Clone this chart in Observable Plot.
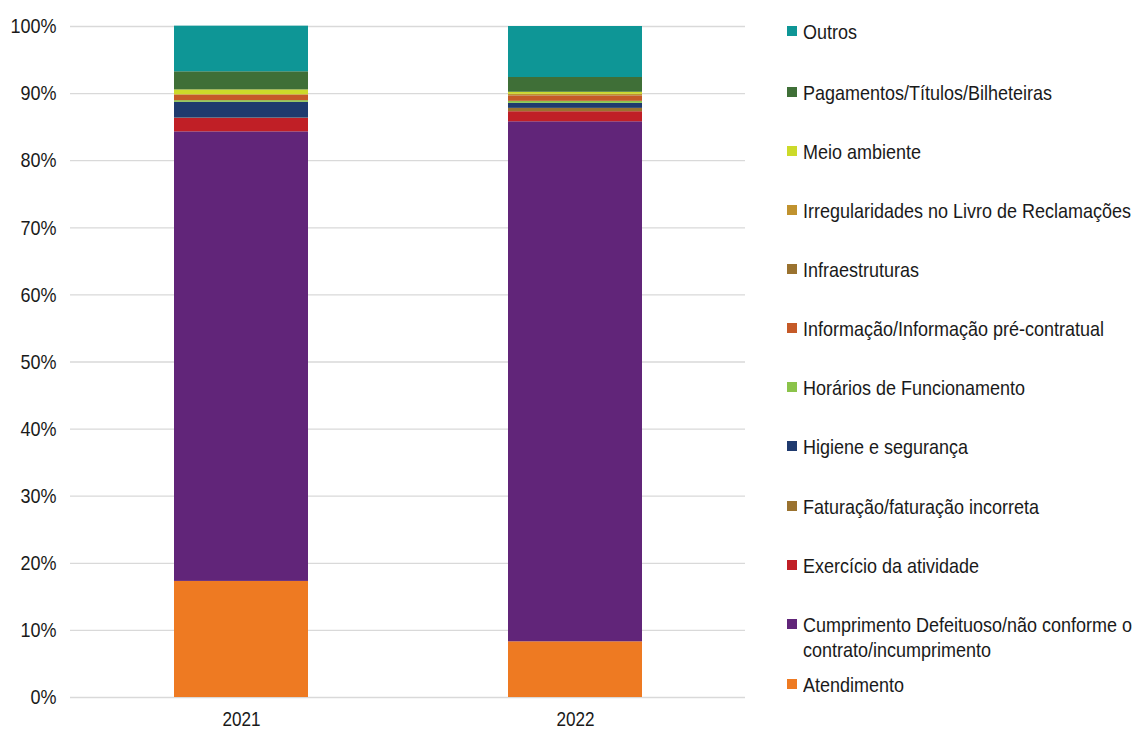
<!DOCTYPE html>
<html>
<head>
<meta charset="utf-8">
<script src="https://cdn.jsdelivr.net/npm/d3@7"></script>
<script src="https://cdn.jsdelivr.net/npm/@observablehq/plot@0.6"></script>
<style>
  body { margin: 0; background: #fff; }
  #wrap { position: relative; width: 1134px; height: 733px; font-family: "Liberation Sans", Arial, sans-serif; overflow: hidden; }
  #chart { position: absolute; left: 0; top: 0; }
  .leg { position: absolute; left: 787px; font-size: 21px; color: #1a1a1a; line-height: 25px; }
  .leg .sw { position: absolute; left: 0; top: 7px; width: 10px; height: 10px; }
  .leg .tx { position: absolute; left: 16px; top: 0; white-space: nowrap; transform-origin: 0 0; }
</style>
</head>
<body>
<div id="wrap"><div id="chart"></div></div>
<script>
// Categories, bottom to top of stack
const categories = [
  "Atendimento",
  "Cumprimento Defeituoso/não conforme o contrato/incumprimento",
  "Exercício da atividade",
  "Faturação/faturação incorreta",
  "Higiene e segurança",
  "Horários de Funcionamento",
  "Informação/Informação pré-contratual",
  "Infraestruturas",
  "Irregularidades no Livro de Reclamações",
  "Meio ambiente",
  "Pagamentos/Títulos/Bilheteiras",
  "Outros"
];
const years = ["2021", "2022"];
const values2021 = [17.3, 67.0, 2.0, 0.05, 2.35, 0.25, 0.8, 0.0, 0.1, 0.7, 2.7, 6.8];
const values2022 = [8.3, 77.5, 1.5, 0.5, 0.75, 0.3, 0.8, 0.05, 0.2, 0.3, 2.2, 7.6];
const colors = ["#EE7A22", "#612579", "#C01F26", "#9A722F", "#1F3A6E", "#8BC34A",
                "#C55A28", "#9A722F", "#C0922E", "#CCDA2A", "#3F6F37", "#0E9696"];
const yTicks = [0, 10, 20, 30, 40, 50, 60, 70, 80, 90, 100];

const rows = [];
categories.forEach((c, i) => {
  rows.push({year: years[0], cat: c, value: values2021[i]});
  rows.push({year: years[1], cat: c, value: values2022[i]});
});

const font = '"Liberation Sans", Arial, sans-serif';
const fontSize = 21;

// condensed factor: fit reference width of the longest legend label (~328px)
const ctx = document.createElement("canvas").getContext("2d");
ctx.font = fontSize + "px " + font;
const sx = 328 / ctx.measureText("Irregularidades no Livro de Reclamações").width;

const chart = Plot.plot({
  width: 770,
  height: 733,
  marginLeft: 70,
  marginRight: 25,
  marginTop: 26,
  marginBottom: 36,
  style: {fontFamily: font, fontSize: fontSize + "px", color: "#1a1a1a", background: "transparent", overflow: "visible"},
  x: {domain: years, paddingInner: 0.6, paddingOuter: 0.31, label: null},
  y: {domain: [0, 100], label: null},
  color: {domain: categories, range: colors},
  marks: [
    Plot.gridY(yTicks, {stroke: "#d9d9d9", strokeOpacity: 1, strokeWidth: 1.3}),
    Plot.barY(rows, {x: "year", y: "value", fill: "cat", z: "cat", order: categories}),
    Plot.axisY({ticks: yTicks, tickFormat: d => d + "%", tickSize: 0, tickPadding: 14, label: null, fontSize: fontSize}),
    Plot.axisX({tickSize: 0, tickPadding: 14, label: null, fontSize: 20})
  ]
});
// apply condensed look to tick labels
chart.querySelectorAll('g[aria-label$="tick label"] text').forEach(t => {
  const tr = t.getAttribute("transform") || "";
  t.setAttribute("transform", tr + ` scale(${sx},1)`);
});
document.getElementById("chart").appendChild(chart);

// Legend (top to bottom)
const legendItems = [
  {i: 11, y: 32}, {i: 10, y: 93}, {i: 9, y: 152}, {i: 8, y: 211}, {i: 7, y: 270},
  {i: 6, y: 329}, {i: 5, y: 388}, {i: 4, y: 447}, {i: 3, y: 507}, {i: 2, y: 566},
  {i: 1, y: 625}, {i: 0, y: 685}
];
const legendLabels = {
  1: ["Cumprimento Defeituoso/não conforme o", "contrato/incumprimento"]
};
const wrap = document.getElementById("wrap");
legendItems.forEach(({i, y}) => {
  const d = document.createElement("div");
  d.className = "leg";
  d.style.top = (y - 13) + "px";
  const sw = document.createElement("div");
  sw.className = "sw";
  sw.style.background = colors[i];
  const tx = document.createElement("div");
  tx.className = "tx";
  tx.style.transform = `scale(${sx},1)`;
  const lines = legendLabels[i] || [categories[i]];
  tx.innerHTML = lines.join("<br>");
  d.appendChild(sw); d.appendChild(tx);
  wrap.appendChild(d);
});
</script>
</body>
</html>
